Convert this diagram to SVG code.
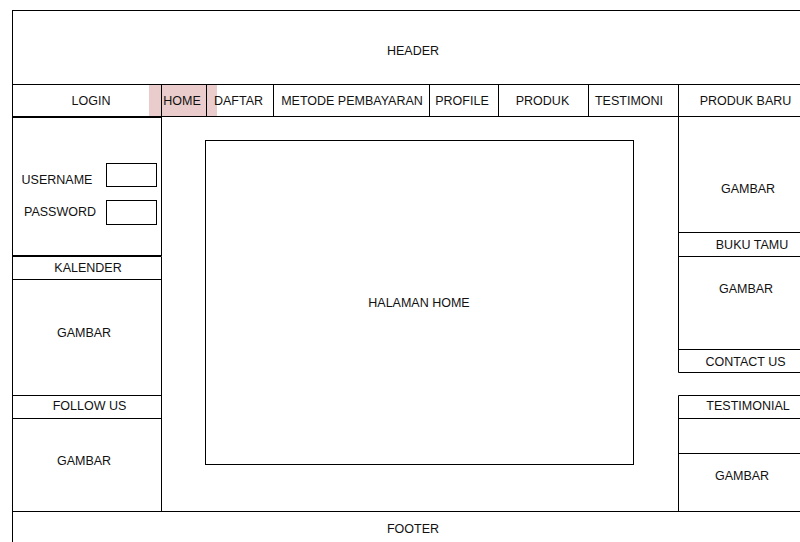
<svg xmlns="http://www.w3.org/2000/svg" width="800" height="542" viewBox="0 0 800 542">
<style>
.b{fill:#fff;stroke:#000;stroke-width:1}
.n{fill:none;stroke:#000;stroke-width:1}
.t{font-family:"Liberation Sans",Arial,sans-serif;font-size:12.5px;fill:#111;text-anchor:middle}
</style>
<rect width="800" height="542" fill="#fff"/>
<g id="header"><rect class="b" x="12.5" y="10.5" width="801" height="74"/><text class="t" x="413" y="55">HEADER</text></g>
<g id="outer"><path class="n" d="M12.5 84.5V542M813.5 84.5V542"/></g>
<g id="nav">
<rect x="149" y="84.5" width="68" height="32" fill="#eacccc"/>
<path class="n" d="M12.5 84.5H813.5M12.5 116.5H813.5"/>
<g id="nav-login"><path class="n" d="M161.5 84.5V116.5"/><text class="t" x="91" y="105">LOGIN</text></g>
<g id="nav-home"><path class="n" d="M206.5 84.5V116.5"/><text class="t" x="182" y="105">HOME</text></g>
<g id="nav-daftar"><path class="n" d="M273.5 84.5V116.5"/><text class="t" x="238.5" y="105">DAFTAR</text></g>
<g id="nav-metode"><path class="n" d="M429.5 84.5V116.5"/><text class="t" x="352" y="105">METODE PEMBAYARAN</text></g>
<g id="nav-profile"><path class="n" d="M498.5 84.5V116.5"/><text class="t" x="462" y="105">PROFILE</text></g>
<g id="nav-produk"><path class="n" d="M588.5 84.5V116.5"/><text class="t" x="542.5" y="105">PRODUK</text></g>
<g id="nav-testimoni"><path class="n" d="M678.5 84.5V116.5"/><text class="t" x="629" y="105">TESTIMONI</text></g>
<g id="nav-produkbaru"><text class="t" x="745.5" y="105">PRODUK BARU</text></g>
</g>
<g id="login-panel">
<rect class="b" x="12.5" y="117.5" width="149" height="138"/>
<text class="t" x="57" y="184">USERNAME</text>
<rect class="b" x="106.5" y="163.5" width="50" height="23"/>
<text class="t" x="60" y="216">PASSWORD</text>
<rect class="b" x="106.5" y="200.5" width="50" height="24"/>
</g>
<g id="left-column">
<path class="n" d="M12.5 256.5H161.5M12.5 279.5H161.5M12.5 395.5H161.5M12.5 418.5H161.5M161.5 256.5V511"/>
<text class="t" x="88" y="272">KALENDER</text>
<text class="t" x="84" y="337">GAMBAR</text>
<text class="t" x="89.5" y="410">FOLLOW US</text>
<text class="t" x="84" y="465">GAMBAR</text>
</g>
<g id="content"><rect class="b" x="205.5" y="140.5" width="428" height="324"/><text class="t" x="419" y="307">HALAMAN HOME</text></g>
<g id="right-top">
<path class="n" d="M678.5 116.5V372.5H813.5M678.5 232.5H813.5M678.5 256.5H813.5M678.5 349.5H813.5"/>
<text class="t" x="748" y="193">GAMBAR</text>
<text class="t" x="752" y="249">BUKU TAMU</text>
<text class="t" x="746" y="293">GAMBAR</text>
<text class="t" x="745.5" y="366">CONTACT US</text>
</g>
<g id="right-bottom">
<path class="n" d="M678.5 511V395.5H813.5M678.5 418.5H813.5M678.5 453.5H813.5"/>
<text class="t" x="748" y="410">TESTIMONIAL</text>
<text class="t" x="742" y="480">GAMBAR</text>
</g>
<g id="footer"><path class="n" d="M12.5 511.5H813.5"/><text class="t" x="413" y="533">FOOTER</text></g>
</svg>
